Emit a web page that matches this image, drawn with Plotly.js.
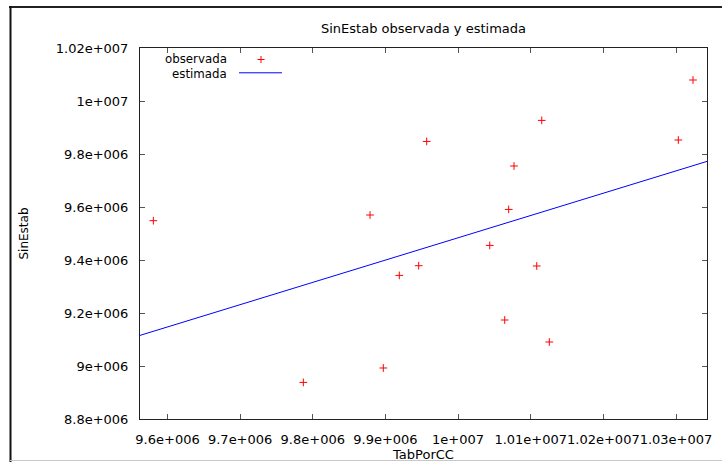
<!DOCTYPE html>
<html>
<head>
<meta charset="utf-8">
<script src="https://cdn.plot.ly/plotly-3.0.1.min.js"></script>
<style>
  html, body { margin: 0; padding: 0; background: #ffffff; }
  #chart { width: 722px; height: 462px; }
</style>
</head>
<body>
<div id="chart"></div>
<script>
// Observed values: TabPorCC (x) vs SinEstab (y)
const tabPorCC = [
  9.5805e6, 9.7870e6, 9.8788e6, 9.8971e6, 9.9191e6, 9.9458e6, 9.9568e6,
  1.00436e7, 1.00642e7, 1.00697e7, 1.00770e7, 1.01083e7, 1.01152e7,
  1.01256e7, 1.03032e7, 1.03234e7
];
const sinEstab = [
  9.5483e6, 8.9381e6, 9.5698e6, 8.9925e6, 9.3419e6, 9.3785e6, 9.8475e6,
  9.4551e6, 9.1736e6, 9.5909e6, 9.7547e6, 9.3774e6, 9.9268e6,
  9.0906e6, 9.8528e6, 1.00792e7
];

// Fitted line, given at both ends of the x range
const estX = [9.56214e6, 1.034268e7];
const estY = [9.1155e6, 9.7721e6];

// Axis ticks and their labels
const xTickVals = [9.6e6, 9.7e6, 9.8e6, 9.9e6, 1.0e7, 1.01e7, 1.02e7, 1.03e7];
const xTickText = ["9.6e+006", "9.7e+006", "9.8e+006", "9.9e+006", "1e+007", "1.01e+007", "1.02e+007", "1.03e+007"];
const yTickVals = [8.8e6, 9.0e6, 9.2e6, 9.4e6, 9.6e6, 9.8e6, 1.0e7, 1.02e7];
const yTickText = ["8.8e+006", "9e+006", "9.2e+006", "9.4e+006", "9.6e+006", "9.8e+006", "1e+007", "1.02e+007"];

const xRange = [estX[0], estX[1]];
const yRange = [8.8e6, 1.02e7];

const FONT = "DejaVu Sans, Verdana, sans-serif";
const TXT = "#000000";

// plot-area geometry in pixels, used to place frame and key marks in paper units
const W = 722, H = 462;
const M = { l: 140, r: 15, t: 48, b: 43 };
const PW = W - M.l - M.r, PH = H - M.t - M.b;
const px = x => (x - M.l) / PW;
const py = y => (H - M.b - y) / PH;

const traces = [
  {
    x: estX, y: estY, type: "scatter", mode: "lines",
    name: "estimada",
    line: { color: "#0000ff", width: 1 },
    hoverinfo: "skip"
  },
  {
    x: tabPorCC, y: sinEstab, type: "scatter", mode: "markers",
    name: "observada",
    marker: { symbol: "cross-thin", size: 5.5, color: "#ff0000", line: { color: "#ff0000", width: 1 } },
    cliponaxis: false
  }
];

const axisCommon = {
  showgrid: false, zeroline: false,
  showline: true, linecolor: "#222222", linewidth: 1, mirror: "ticks",
  ticks: "inside", ticklen: 5, tickwidth: 1, tickcolor: "#555555",
  tickfont: { family: FONT, size: 13, color: TXT },
  ticklabelstandoff: 8,
  tickmode: "array"
};

const layout = {
  width: W, height: H,
  margin: M,
  paper_bgcolor: "#ffffff", plot_bgcolor: "#ffffff",
  showlegend: false,
  title: {
    text: "SinEstab observada y estimada",
    font: { family: FONT, size: 13, color: TXT },
    x: 0.5, xref: "paper", xanchor: "center",
    y: 1 - 28 / H, yref: "container", yanchor: "middle"
  },
  xaxis: Object.assign({}, axisCommon, {
    range: xRange,
    tickvals: xTickVals, ticktext: xTickText,
    tickangle: 0,
    title: { text: "TabPorCC", font: { family: FONT, size: 13, color: TXT }, standoff: 4 }
  }),
  yaxis: Object.assign({}, axisCommon, {
    range: yRange,
    tickvals: yTickVals, ticktext: yTickText,
    title: { text: "SinEstab", font: { family: FONT, size: 12, color: TXT }, standoff: 24 }
  }),
  shapes: [
    // outer frame
    { type: "line", xref: "paper", yref: "paper", x0: px(9), x1: px(W), y0: py(7), y1: py(7),
      line: { color: "#222222", width: 2 } },
    { type: "line", xref: "paper", yref: "paper", x0: px(10.5), x1: px(10.5), y0: py(6), y1: py(H),
      line: { color: "#111111", width: 2 } },
    { type: "line", xref: "paper", yref: "paper", x0: px(10), x1: px(W), y0: py(460.5), y1: py(460.5),
      line: { color: "#c8c8c8", width: 1 } },
    // key samples
    { type: "line", xref: "paper", yref: "paper", x0: px(257.5), x1: px(264.5), y0: py(59.5), y1: py(59.5),
      line: { color: "#ff0000", width: 1 } },
    { type: "line", xref: "paper", yref: "paper", x0: px(261), x1: px(261), y0: py(56), y1: py(63),
      line: { color: "#ff0000", width: 1 } },
    { type: "line", xref: "paper", yref: "paper", x0: px(239), x1: px(282), y0: py(72.8), y1: py(72.8),
      line: { color: "#0000ff", width: 1 } }
  ],
  annotations: [
    { text: "observada", xref: "paper", yref: "paper", x: px(229), y: py(59.3),
      xanchor: "right", yanchor: "middle", showarrow: false,
      font: { family: FONT, size: 11.8, color: TXT } },
    { text: "estimada", xref: "paper", yref: "paper", x: px(229), y: py(73.7),
      xanchor: "right", yanchor: "middle", showarrow: false,
      font: { family: FONT, size: 11.8, color: TXT } }
  ]
};

Plotly.newPlot("chart", traces, layout, { displayModeBar: false, staticPlot: true });
</script>
</body>
</html>
